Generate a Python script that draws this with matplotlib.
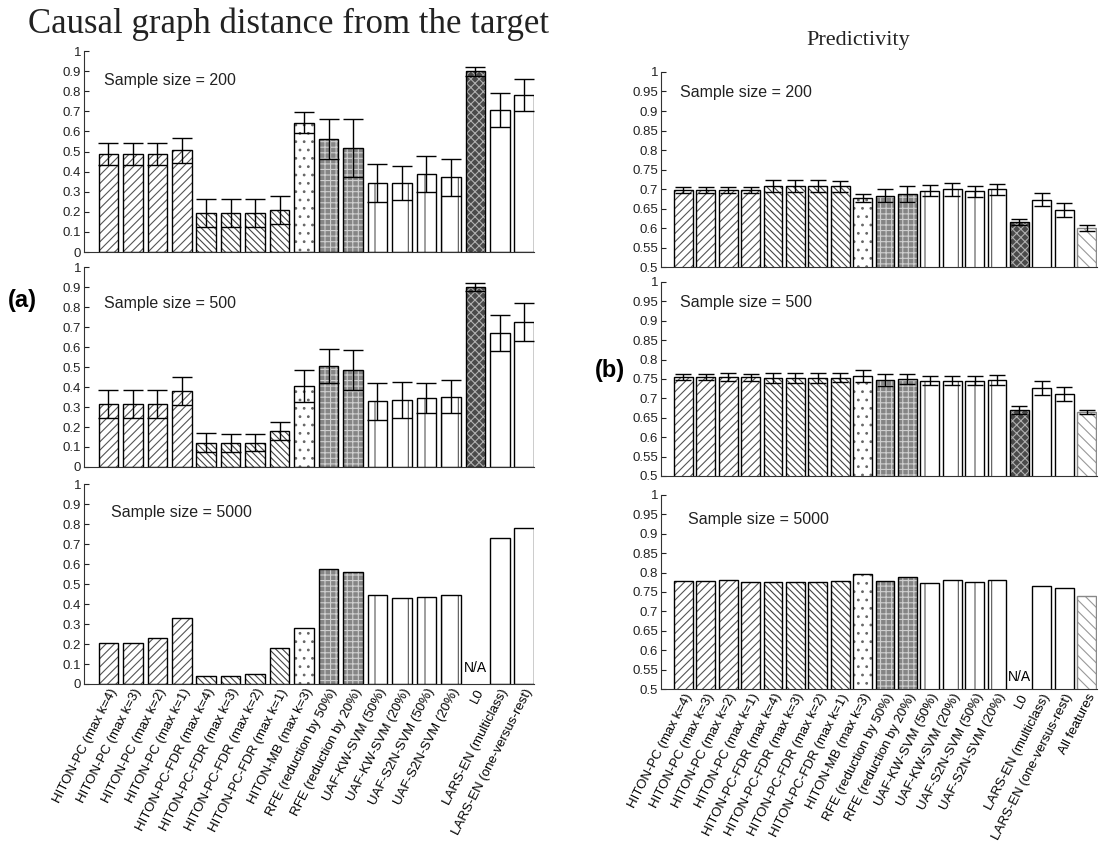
import numpy as np
import matplotlib
matplotlib.use("Agg")
import matplotlib.pyplot as plt

plt.rcParams["font.family"] = ["Liberation Sans", "DejaVu Sans"]
plt.rcParams["hatch.linewidth"] = 0.8

# -----------------------------
# labels
# -----------------------------
methods = [
    "HITON-PC (max k=4)", "HITON-PC (max k=3)", "HITON-PC (max k=2)", "HITON-PC (max k=1)",
    "HITON-PC-FDR (max k=4)", "HITON-PC-FDR (max k=3)", "HITON-PC-FDR (max k=2)", "HITON-PC-FDR (max k=1)",
    "HITON-MB (max k=3)",
    "RFE (reduction by 50%)", "RFE (reduction by 20%)",
    "UAF-KW-SVM (50%)", "UAF-KW-SVM (20%)", "UAF-S2N-SVM (50%)", "UAF-S2N-SVM (20%)",
    "L0",
    "LARS-EN (multiclass)", "LARS-EN (one-versus-rest)",
]
methods_pred = methods + ["All features"]

sample_sizes = [200, 500, 5000]

# -----------------------------
# (a) causal graph distance
# -----------------------------
dist_200 = [0.486, 0.486, 0.486, 0.506, 0.194, 0.194, 0.194, 0.209, 0.643,
            0.564, 0.519, 0.344, 0.344, 0.388, 0.373, 0.900, 0.706, 0.782]
dist_200_err = [0.055, 0.055, 0.055, 0.063, 0.070, 0.070, 0.070, 0.068, 0.052,
                0.100, 0.145, 0.095, 0.086, 0.088, 0.092, 0.022, 0.085, 0.080]

dist_500 = [0.314, 0.314, 0.314, 0.378, 0.122, 0.122, 0.122, 0.182, 0.405,
            0.507, 0.485, 0.328, 0.336, 0.346, 0.351, 0.900, 0.671, 0.724]
dist_500_err = [0.070, 0.070, 0.070, 0.070, 0.047, 0.045, 0.042, 0.045, 0.078,
                0.085, 0.100, 0.092, 0.090, 0.075, 0.082, 0.022, 0.090, 0.095]

dist_5000 = [0.207, 0.207, 0.228, 0.331, 0.042, 0.042, 0.048, 0.178, 0.278,
             0.573, 0.561, 0.444, 0.432, 0.437, 0.444, np.nan, 0.731, 0.779]

# -----------------------------
# (b) predictivity
# -----------------------------
pred_200 = [0.697, 0.697, 0.697, 0.697, 0.707, 0.707, 0.707, 0.707, 0.676, 0.683,
            0.687, 0.696, 0.699, 0.694, 0.699, 0.615, 0.673, 0.647, 0.600]
pred_200_err = [0.008, 0.008, 0.008, 0.008, 0.015, 0.015, 0.015, 0.014, 0.010, 0.017,
                0.021, 0.015, 0.017, 0.014, 0.014, 0.008, 0.016, 0.018, 0.007]

pred_500 = [0.755, 0.755, 0.755, 0.755, 0.753, 0.753, 0.753, 0.753, 0.757, 0.748,
            0.750, 0.746, 0.746, 0.746, 0.747, 0.670, 0.727, 0.712, 0.666]
pred_500_err = [0.008, 0.008, 0.010, 0.009, 0.013, 0.013, 0.013, 0.012, 0.016, 0.015,
                0.013, 0.012, 0.011, 0.012, 0.012, 0.010, 0.018, 0.018, 0.005]

pred_5000 = [0.779, 0.779, 0.782, 0.777, 0.777, 0.777, 0.777, 0.779, 0.797, 0.779,
             0.788, 0.772, 0.782, 0.775, 0.782, np.nan, 0.766, 0.759, 0.740]

# face colour, hatch, hatch colour for each method family
STYLE = {
    "hiton_pc": ("white", "////", "#555555"),
    "hiton_fdr": ("white", "\\\\\\\\\\", "#444444"),
    "hiton_mb": ("white", "..", "#666666"),
    "rfe": ("#858585", "+++", "#cfcfcf"),
    "uaf": ("white", "|", "#555555"),
    "l0": ("#4a4a4a", "xxxx", "#b0b0b0"),
    "lars": ("white", "", "black"),
    "all": ("white", "\\\\\\", "#999999"),
}


def family(name):
    n = name.lower()
    if n.startswith("hiton-pc-fdr"):
        return "hiton_fdr"
    if n.startswith("hiton-pc"):
        return "hiton_pc"
    if n.startswith("hiton-mb"):
        return "hiton_mb"
    if n.startswith("rfe"):
        return "rfe"
    if n.startswith("uaf"):
        return "uaf"
    if n == "l0":
        return "l0"
    if n.startswith("lars"):
        return "lars"
    return "all"


def draw_panel(ax, names, vals, errs, capsize, width):
    x = np.arange(1, len(names) + 1)
    vals = np.asarray(vals, dtype=float)
    for i, name in enumerate(names):
        if np.isnan(vals[i]):
            continue
        fc, hatch, hc = STYLE[family(name)]
        ax.bar(x[i], vals[i], width=width, color=fc, edgecolor=hc,
               hatch=hatch, linewidth=0, zorder=2)
        ec = "#888888" if family(name) == "all" else "black"
        ax.bar(x[i], vals[i], width=width, fill=False, edgecolor=ec,
               linewidth=1.0, zorder=3)
    if errs is not None:
        ax.errorbar(x, vals, yerr=errs, fmt="none", ecolor="black",
                    elinewidth=1.0, capsize=capsize, capthick=1.0, zorder=4)
    for s in ["top", "right"]:
        ax.spines[s].set_visible(False)
    for s in ["left", "bottom"]:
        ax.spines[s].set_color("#333333")
    ax.tick_params(axis="y", direction="in", length=3.5, labelsize=9.5,
                   colors="#222222", pad=2)
    ax.tick_params(axis="x", length=0, pad=2)
    return x


def fmt(v):
    s = ("%.2f" % v).rstrip("0").rstrip(".")
    return s


def main():
    fig = plt.figure(figsize=(11.09, 8.48), dpi=100)

    left_pos = [(0.0757, 0.7028, 0.4058, 0.2370),
                (0.0757, 0.4493, 0.4058, 0.2358),
                (0.0757, 0.1934, 0.4058, 0.2358)]
    right_pos = [(0.5960, 0.6851, 0.3930, 0.2300),
                 (0.5960, 0.4387, 0.3930, 0.2288),
                 (0.5960, 0.1875, 0.3930, 0.2288)]

    dist_vals = [dist_200, dist_500, dist_5000]
    dist_errs = [dist_200_err, dist_500_err, None]
    pred_vals = [pred_200, pred_500, pred_5000]
    pred_errs = [pred_200_err, pred_500_err, None]
    left_text = [(0.044, 0.855), (0.044, 0.82), (0.06, 0.86)]
    right_text = [(0.043, 0.894), (0.043, 0.893), (0.061, 0.875)]

    dist_ticks = np.round(np.arange(0, 1.01, 0.1), 2)
    pred_ticks = np.round(np.arange(0.5, 1.001, 0.05), 2)

    for k, n in enumerate(sample_sizes):
        ax = fig.add_axes(left_pos[k])
        x = draw_panel(ax, methods, dist_vals[k], dist_errs[k], 7.5, 0.8)
        ax.set_xlim(0, 18.4)
        ax.set_ylim(0, 1)
        ax.set_yticks(dist_ticks)
        ax.set_yticklabels([fmt(t) for t in dist_ticks])
        ax.text(left_text[k][0], left_text[k][1], "Sample size = %d" % n,
                transform=ax.transAxes, fontsize=11.5, va="center",
                color="#222222")
        ax.set_xticks(x)
        if k == 2:
            ax.set_xticklabels(methods, rotation=63, ha="right",
                               rotation_mode="anchor", fontsize=9.5)
            ax.text(16, 0.08, "N/A", ha="center", va="center", fontsize=10)
        else:
            ax.set_xticklabels([])

        ax = fig.add_axes(right_pos[k])
        x = draw_panel(ax, methods_pred, pred_vals[k], pred_errs[k], 6, 0.84)
        ax.set_xlim(0, 19.45)
        ax.set_ylim(0.5, 1)
        ax.set_yticks(pred_ticks)
        ax.set_yticklabels([fmt(t) for t in pred_ticks])
        ax.text(right_text[k][0], right_text[k][1], "Sample size = %d" % n,
                transform=ax.transAxes, fontsize=11.5, va="center",
                color="#222222")
        ax.set_xticks(x)
        if k == 2:
            ax.set_xticklabels(methods_pred, rotation=63, ha="right",
                               rotation_mode="anchor", fontsize=9.5)
            ax.text(16, 0.532, "N/A", ha="center", va="center", fontsize=10)
        else:
            ax.set_xticklabels([])

    fig.text(289 / 1109, 1 - 24 / 848, "Causal graph distance from the target",
             family=["Liberation Serif", "DejaVu Serif"], fontsize=25,
             ha="center", va="center", color="#222222")
    fig.text(858 / 1109, 1 - 40 / 848, "Predictivity",
             family=["Liberation Serif", "DejaVu Serif"], fontsize=16,
             ha="center", va="center", color="#222222")
    fig.text(22 / 1109, 1 - 300 / 848, "(a)", fontsize=17, fontweight="bold",
             ha="center", va="center")
    fig.text(610 / 1109, 1 - 370 / 848, "(b)", fontsize=17, fontweight="bold",
             ha="center", va="center")

    fig.savefig("out.png", dpi=100)


if __name__ == "__main__":
    main()
